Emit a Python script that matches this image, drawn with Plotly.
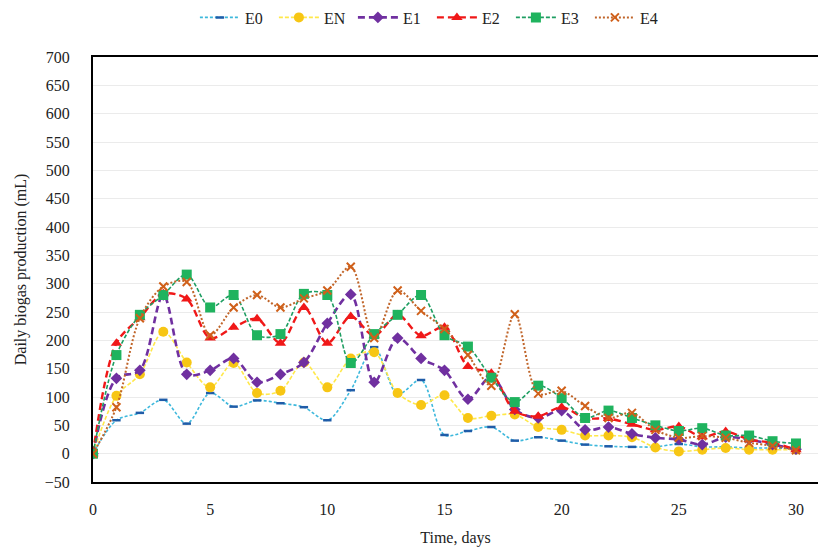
import plotly.graph_objects as go

# Sampling days
days = list(range(31))

# Daily biogas production (mL) per treatment
e0 = [0, 59, 72, 95, 53, 107, 83, 94, 89, 82, 59, 112, 188, 105, 130, 33, 40, 47, 23, 29, 23, 16,
      13, 12, 12, 17, 12, 12, 10, 10, 9]
en = [0, 102, 140, 215, 161, 117, 160, 107, 111, 161, 117, 168, 179, 107, 86, 103, 63, 67, 69, 47, 42, 32,
      32, 29, 11, 4, 7, 10, 7, 7, 7]
e1 = [0, 133, 147, 280, 140, 147, 168, 126, 140, 161, 230, 281, 126, 204, 168, 147, 96, 136, 78, 63, 76, 42,
      47, 35, 28, 25, 16, 29, 25, 16, 8]
e2 = [0, 195, 240, 282, 273, 204, 223, 238, 195, 258, 195, 242, 208, 245, 208, 223, 154, 142, 75, 66, 82, 63,
      62, 52, 42, 48, 30, 39, 25, 19, 7]
e3 = [0, 174, 245, 280, 316, 258, 280, 209, 211, 282, 280, 160, 211, 245, 280, 209, 189, 134, 91, 120, 98, 63,
      76, 63, 50, 40, 45, 32, 32, 22, 18]
e4 = [0, 82, 239, 295, 303, 209, 258, 280, 258, 274, 288, 330, 204, 288, 252, 220, 174, 120, 246, 106, 111, 84,
      63, 72, 42, 28, 31, 28, 19, 14, 6]

x_ticks = [0, 5, 10, 15, 20, 25, 30]
y_ticks = list(range(-50, 701, 50))

FONT = "'Liberation Serif', 'DejaVu Serif', serif"

series = [
    # name, values, line colour, dash, line width, marker symbol, marker colour, marker size
    ("E0", e0, "#3DB8DC", "3px,2px", 1.6, "line-ew-open", "#1F5CA8", 6),
    ("EN", en, "#FFE84A", "4px,2px", 1.6, "circle", "#F7C614", 10),
    ("E1", e1, "#7030A0", "7px,4px", 2.6, "diamond", "#7030A0", 9),
    ("E2", e2, "#F01818", "7px,4px", 2.4, "triangle-up", "#F01818", 10),
    ("E3", e3, "#1E9E62", "4px,2px", 1.6, "square", "#1FB35E", 10),
    ("E4", e4, "#C0652A", "2px,2px", 2.0, "x-thin-open", "#D0601A", 8),
]

fig = go.Figure()
for name, vals, lc, dash, lw, sym, mc, ms in series:
    marker = dict(symbol=sym, size=ms, color=mc)
    if sym.endswith("open"):
        marker["line"] = dict(color=mc, width=2.5 if sym.startswith("line") else 2)
    else:
        marker["line"] = dict(color=mc, width=0)
    fig.add_trace(go.Scatter(
        x=days, y=vals, name=name, mode="lines+markers",
        line=dict(color=lc, width=lw, dash=dash, shape="spline", smoothing=0.9),
        marker=marker,
    ))

fig.update_layout(
    width=818, height=547,
    margin=dict(l=93, r=0, t=57, b=62),
    paper_bgcolor="white", plot_bgcolor="white",
    font=dict(family=FONT, size=16, color="#222222"),
    showlegend=True,
    legend=dict(
        orientation="h", xref="container", yref="container",
        x=0.528, xanchor="center", y=0.968, yanchor="middle",
        font=dict(family=FONT, size=16, color="#222222"),
        entrywidth=24, itemwidth=40, tracegroupgap=0,
    ),
    xaxis=dict(
        range=[0, 30.94], tickvals=x_ticks, showgrid=False, zeroline=False,
        showline=True, linecolor="black", linewidth=2, mirror=True,
        ticks="", ticklabelstandoff=12,
        title=dict(text="Time, days", font=dict(family=FONT, size=16), standoff=18),
    ),
    yaxis=dict(
        range=[-50, 700], tickvals=y_ticks, showgrid=True, gridcolor="#EBEBEB", gridwidth=1,
        zeroline=False, showline=True, linecolor="black", linewidth=2,
        ticks="", ticklabelstandoff=18,
        title=dict(text="Daily biogas production (mL)", font=dict(family=FONT, size=16), standoff=14),
    ),
)

fig.write_html("out.html")
